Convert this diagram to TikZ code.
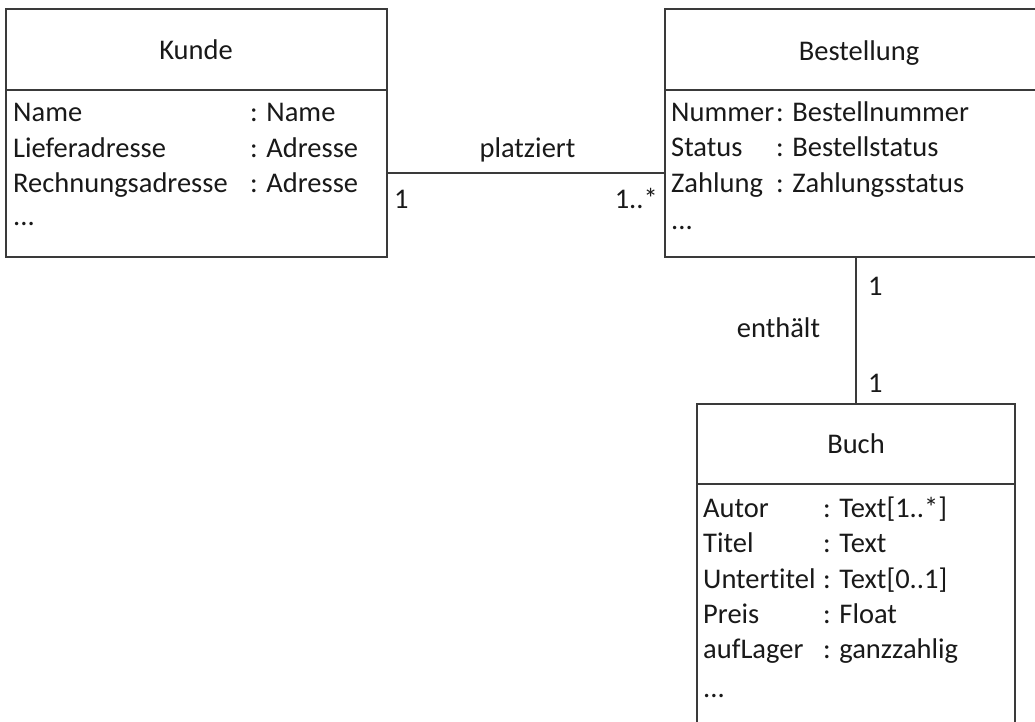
\documentclass[tikz,border=0pt]{standalone}
\usepackage{fontspec}
\setmainfont{Carlito}[Ligatures=NoCommon]
\begin{document}
\begin{tikzpicture}[x=1pt,y=-1pt,
  classbox/.style={draw=linegray,line width=1.4pt,inner sep=0pt,rectangle},
  conn/.style={draw=linegray,line width=1.4pt},
  txt/.style={inner sep=0pt,anchor=base west,text=black!90,font=\fontsize{28.5}{34}\selectfont},
  ctxt/.style={txt,anchor=base},
  rtxt/.style={txt,anchor=base east}]
\definecolor{linegray}{HTML}{3A3A3A}
\useasboundingbox (0,0) rectangle (1035,722);
\clip (0,0) rectangle (1035,722);
% class boxes
\node[classbox,minimum width=381pt,minimum height=248pt] (kunde) at (196.5,133) {};
\node[classbox,minimum width=388pt,minimum height=248pt] (best) at (859,133) {};
\node[classbox,minimum width=318pt,minimum height=356pt] (buch) at (856,582) {};
% dividers
\draw[conn] (kunde.west |- 0,90) -- (kunde.east |- 0,90);
\draw[conn] (best.west |- 0,90) -- (best.east |- 0,90);
\draw[conn] (buch.west |- 0,484) -- (buch.east |- 0,484);
% Kunde
\node[ctxt] (kt) at (196,60) {Kunde};
\node[txt] (k1) at (13,122) {Name};
\node[txt] (k1t) at (250,122) {: Name};
\node[txt] (k2) at (13,158) {Lieferadresse};
\node[txt] (k2t) at (250,158) {: Adresse};
\node[txt] (k3) at (13,193) {Rechnungsadresse};
\node[txt] (k3t) at (250,193) {: Adresse};
\node[txt] (k4) at (13,225) {...};
% Bestellung
\node[ctxt] (bt) at (859,61) {Bestellung};
\node[txt] (b1) at (671,122) {Nummer};
\node[txt] (b1t) at (776,122) {: Bestellnummer};
\node[txt] (b2) at (671,157) {Status};
\node[txt] (b2t) at (776,157) {: Bestellstatus};
\node[txt] (b3) at (671,193) {Zahlung};
\node[txt] (b3t) at (776,193) {: Zahlungsstatus};
\node[txt] (b4) at (671,229) {...};
% Buch
\node[ctxt] (ut) at (856,453) {Buch};
\node[txt] (u1) at (703,517) {Autor};
\node[txt] (u1t) at (823,517) {: Text[1..*]};
\node[txt] (u2) at (703,552) {Titel};
\node[txt] (u2t) at (823,552) {: Text};
\node[txt] (u3) at (703,588) {Untertitel};
\node[txt] (u3t) at (823,588) {: Text[0..1]};
\node[txt] (u4) at (703,623) {Preis};
\node[txt] (u4t) at (823,623) {: Float};
\node[txt] (u5) at (703,658) {aufLager};
\node[txt] (u5t) at (823,658) {: ganzzahlig};
\node[txt] (u6) at (703,697) {...};
% connectors
\coordinate (pk) at (kunde.east |- 0,173);
\draw[conn] (pk) -- (pk -| best.west);
\draw[conn] (buch.north |- best.south) -- (buch.north);
% connector labels
\node[ctxt] (plz) at (527.5,158) {platziert};
\node[txt] (m1) at (394,208) {1};
\node[rtxt] (m2) at (658,208) {1..*};
\node[ctxt] (enth) at (778.5,337) {enthält};
\node[txt] (m3) at (868,295) {1};
\node[txt] (m4) at (868,392) {1};
\end{tikzpicture}
\end{document}
